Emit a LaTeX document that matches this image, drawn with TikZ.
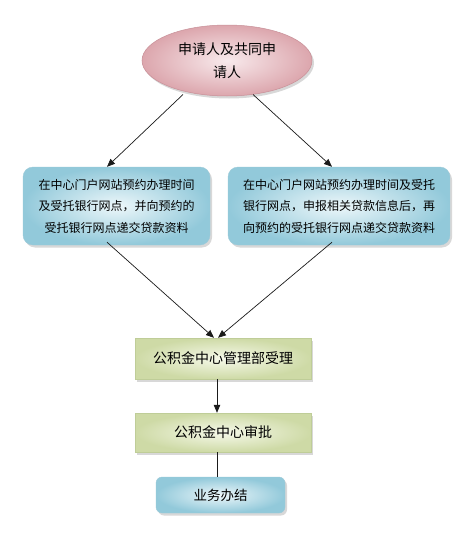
\documentclass[tikz,border=0pt]{standalone}
\usepackage{fontspec}
\setmainfont{Noto Sans CJK SC}
\usetikzlibrary{shapes.geometric,arrows.meta,shadows,calc}
\definecolor{pinkin}{HTML}{F8EAEC}
\definecolor{pinkout}{HTML}{DCA6AD}
\definecolor{pinkline}{HTML}{C89098}
\definecolor{bluein}{HTML}{EDF7FA}
\definecolor{blueout}{HTML}{92C9DA}
\definecolor{blueline}{HTML}{9CC9D8}
\definecolor{greenin}{HTML}{F6F9EA}
\definecolor{greenout}{HTML}{CEDAA6}
\definecolor{greenline}{HTML}{BFCD98}
\definecolor{arrowc}{HTML}{1A1A1A}
\begin{document}
\begin{tikzpicture}[x=1pt,y=-1pt,
  shad/.style={drop shadow={shadow xshift=2pt,shadow yshift=-2.5pt,opacity=0.25,fill=black!60}},
  startell/.style={ellipse,draw=pinkline,line width=0.5pt,inner color=pinkin,outer color=pinkout,
    minimum width=170pt,minimum height=71pt,inner sep=0pt,align=center,
    font=\fontsize{14}{23}\selectfont,shad},
  bluebox/.style={rounded corners=10pt,draw=blueline,line width=0.4pt,inner color=bluein,outer color=blueout,
    minimum height=78pt,inner sep=2pt,align=center,font=\fontsize{12}{21.5}\selectfont,shad},
  greenbox/.style={draw=greenline,line width=0.4pt,inner color=greenin,outer color=greenout,
    minimum width=176pt,inner sep=0pt,align=center,font=\fontsize{14}{17}\selectfont,shad},
  endbox/.style={rounded corners=6pt,draw=blueline,line width=0.4pt,inner color=bluein,outer color=blueout,
    minimum width=129pt,minimum height=36pt,inner sep=0pt,align=center,font=\fontsize{13.5}{17}\selectfont,shad},
  conn/.style={draw=arrowc,line width=0.7pt},
  arr/.style={conn,-{Triangle[length=8pt,width=6.5pt]}}
]
\useasboundingbox (0,0) rectangle (465,541);
\fill[white] (0,0) rectangle (465,541);

\node[startell] (e) at (227,60.5) {申请人及共同申\\请人};
\node[bluebox,minimum width=187pt] (l) at (116.5,206) {在中心门户网站预约办理时间\\及受托银行网点，并向预约的\\受托银行网点递交贷款资料};
\node[bluebox,minimum width=222pt] (r) at (339,206) {在中心门户网站预约办理时间及受托\\银行网点，申报相关贷款信息后，再\\向预约的受托银行网点递交贷款资料};
\node[greenbox,minimum height=41pt] (a) at (223,358.5) {公积金中心管理部受理};
\node[greenbox,minimum height=39pt] (b) at (223,432.5) {公积金中心审批};
\node[endbox] (c) at (220.5,495) {业务办结};

\coordinate (ls) at ($(e.center)+(-44,34)$);
\coordinate (rs) at ($(e.center)+(26,34)$);
\draw[arr] (ls) -- ($(l.north)+(-9.5,0)$);
\draw[arr] (rs) -- ($(r.north)+(-7,0)$);
\draw[arr] ($(l.south)+(-9.5,-3)$) -- ($(a.north)+(-9,0)$);
\draw[arr] ($(r.south)+(-7,-3)$) -- ($(a.north)+(-5,0)$);
\draw[arr] ($(a.south)+(-6,0)$) -- ($(b.north)+(-6,0)$);
\draw[conn] ($(b.south)+(-6,0)$) -- ($(c.north)+(-3.5,0)$);
\end{tikzpicture}
\end{document}
